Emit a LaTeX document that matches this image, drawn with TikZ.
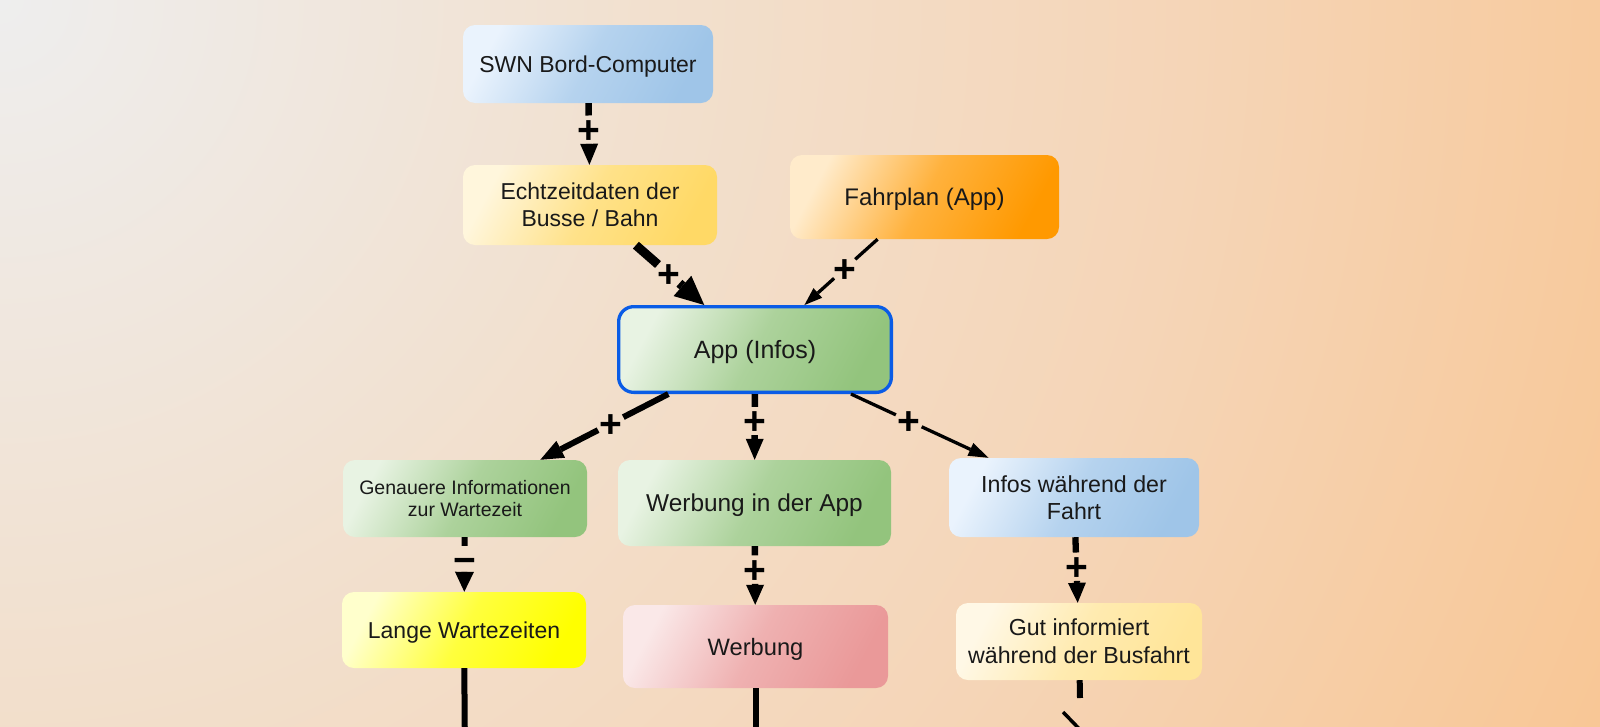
\documentclass[tikz,border=0pt]{standalone}
\usepackage{fontspec}
\setmainfont{Liberation Sans}
\usetikzlibrary{arrows.meta}
\definecolor{bgA}{HTML}{EEEEEE}
\definecolor{bgB}{HTML}{F2DFCC}
\definecolor{bgC}{HTML}{F5D5B7}
\definecolor{bgD}{HTML}{F8C796}
\pgfdeclareradialshading{bgshade}{\pgfpoint{0bp}{0bp}}{color(0bp)=(bgA); color(10bp)=(bgB); color(17bp)=(bgC); color(25bp)=(bgD); color(50bp)=(bgD)}
\definecolor{blueL}{HTML}{EAF3FD}
\definecolor{blueD}{HTML}{9FC5E8}
\definecolor{yelL}{HTML}{FFF6DC}
\definecolor{yelD}{HTML}{FFD966}
\definecolor{oraL}{HTML}{FFEBCB}
\definecolor{oraD}{HTML}{FF9900}
\definecolor{grnL}{HTML}{E8F3E3}
\definecolor{grnD}{HTML}{93C47D}
\definecolor{lemL}{HTML}{FFFFCC}
\definecolor{lemD}{HTML}{FFFF00}
\definecolor{redL}{HTML}{FAE8E8}
\definecolor{redD}{HTML}{EA9999}
\definecolor{crmL}{HTML}{FFF8E6}
\definecolor{crmD}{HTML}{FFE599}
\definecolor{appBlue}{HTML}{0A5CE6}
\newcommand{\glab}[1]{\makebox[0pt]{\raisebox{-0.353em}[0pt][0pt]{#1}}}
\tikzset{
  box/.style 2 args={rounded corners=12pt, left color=#1, right color=#2, middle color=#2!70!#1, shading angle=62, align=center, inner sep=0pt, text=black!90},
  fnt/.style 2 args={font=\fontsize{#1pt}{#2pt}\selectfont},
  oneline/.style={text height=#1pt, text depth=0pt},
  gap/.style={circle, inner sep=0pt, minimum size=28pt, font=\fontsize{39pt}{39pt}\selectfont\bfseries},
  ln/.style={line width=#1pt, draw=black},
  arr/.style 2 args={-{Triangle[length=#1pt,width=#2pt,line width=0pt]}},
}
\begin{document}
\begin{tikzpicture}[x=1pt,y=-1pt]
\useasboundingbox (0,0) rectangle (1600,726);
\clip (0,0) rectangle (1600,726);
\shade[shading=bgshade] (-1750,-1750) rectangle (1750,1750);

\node[box={blueL}{blueD}, minimum width=250pt, minimum height=78pt, fnt={23}{27}, oneline=16.5] (swn) at (588,64) {SWN Bord-Computer};
\node[box={yelL}{yelD}, minimum width=254pt, minimum height=80pt, fnt={23}{27}] (echt) at (590,205) {Echtzeitdaten der\\Busse / Bahn};
\node[box={oraL}{oraD}, minimum width=269pt, minimum height=84pt, fnt={24}{28}, oneline=17.2] (fahr) at (924.5,197) {Fahrplan (App)};
\node[box={grnL}{grnD}, draw=appBlue, line width=3.3pt, rounded corners=15pt, minimum width=272.7pt, minimum height=85.7pt, fnt={25}{29}, oneline=17.9] (app) at (755,349.5) {App (Infos)};
\node[box={grnL}{grnD}, minimum width=244pt, minimum height=77pt, fnt={19.5}{22.7}] (gen) at (465,498.5) {Genauere Informationen\\zur Wartezeit};
\node[box={grnL}{grnD}, minimum width=273pt, minimum height=86pt, fnt={24.4}{28}, oneline=17.5] (wapp) at (754.5,503) {Werbung in der App};
\node[box={blueL}{blueD}, minimum width=250pt, minimum height=79pt, fnt={23.2}{27}] (infos) at (1074,497.5) {Infos während der\\Fahrt};
\node[box={lemL}{lemD}, minimum width=244pt, minimum height=76pt, fnt={23}{27}, oneline=16.5] (lange) at (464,630) {Lange Wartezeiten};
\node[box={redL}{redD}, minimum width=265pt, minimum height=83pt, fnt={23.7}{28}, oneline=17] (werb) at (755.5,646.5) {Werbung};
\node[box={crmL}{crmD}, minimum width=246pt, minimum height=77pt, fnt={23.2}{27.7}] (gut) at (1079,641.5) {Gut informiert\\während der Busfahrt};

% SWN -> Echtzeit
\path (swn) -- node[gap, pos=0.43] (l1) {\glab{+}} (echt);
\draw[ln=6.5] (swn) -- (l1);
\draw[ln=6.5, arr={21}{18}] (l1) -- (echt);
% Echtzeit -> App
\path (echt) -- node[gap, pos=0.48] (l2) {\glab{+}} (app);
\draw[ln=9] (echt) -- (l2);
\draw[ln=9, arr={29}{27}] (l2) -- (app);
% Fahrplan -> App
\path (fahr) -- node[gap, pos=0.45] (l3) {\glab{+}} (app);
\draw[ln=3.3] (fahr) -- (l3);
\draw[ln=3.3, arr={18}{13}] (l3) -- (app);
% App -> Genauere
\path (app) -- node[gap, pos=0.45] (l4) {\glab{+}} (gen);
\draw[ln=6] (app) -- (l4);
\draw[ln=6, arr={23}{19}] (l4) -- (gen);
% App -> Werbung in der App
\path (app) -- node[gap, pos=0.41] (l5) {\glab{+}} (wapp);
\draw[ln=6.5] (app) -- (l5);
\draw[ln=6.5, arr={21}{18}] (l5) -- (wapp);
% App -> Infos
\path (app) -- node[gap, pos=0.42] (l6) {\glab{+}} (infos);
\draw[ln=3.3] (app) -- (l6);
\draw[ln=3.3, arr={20}{14}] (l6) -- (infos);
% Genauere -> Lange
\path (gen) -- node[gap, pos=0.42] (l7) {\glab{−}} (lange);
\draw[ln=6] (gen) -- (l7);
\draw[ln=6, arr={20}{19}] (l7) -- (lange);
% Werbung in der App -> Werbung
\path (wapp) -- node[gap, pos=0.40] (l8) {\glab{+}} (werb);
\draw[ln=6.5] (wapp) -- (l8);
\draw[ln=6.5, arr={20}{18}] (l8) -- (werb);
% Infos -> Gut
\path (infos) -- node[gap, pos=0.45] (l9) {\glab{+}} (gut);
\draw[ln=6.3] (infos) -- (l9);
\draw[ln=6.3, arr={20}{18}] (l9) -- (gut);

% outgoing connectors (leave the picture)
\coordinate (langeOut) at (465,760);
\draw[ln=6] (lange) -- (langeOut);
\coordinate (werbOut) at (755.5,760);
\draw[ln=6] (werb) -- (werbOut);
\coordinate (gutStub) at (1080,698);
\draw[ln=6] (gut) -- (gutStub);
\coordinate (gutDiagA) at (1063,712);
\coordinate (gutDiagB) at (1090,740);
\draw[ln=3.5] (gutDiagA) -- (gutDiagB);
\end{tikzpicture}
\end{document}
